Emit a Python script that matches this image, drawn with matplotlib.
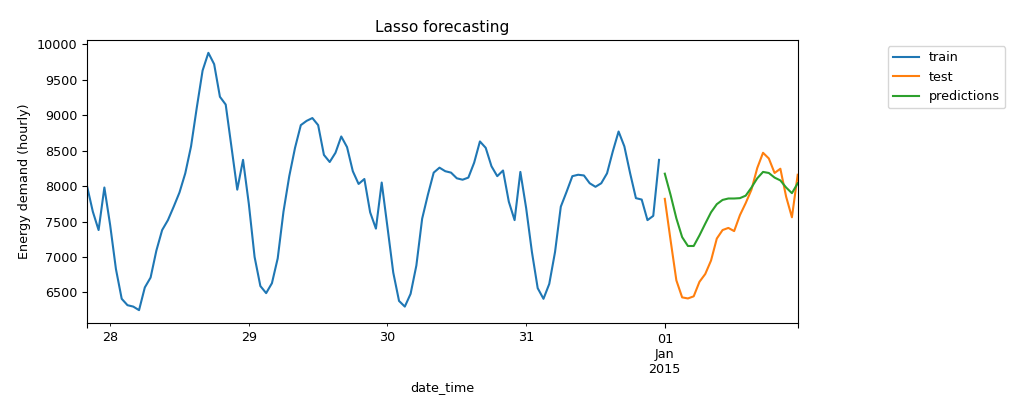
import matplotlib
matplotlib.use("Agg")
import matplotlib.pyplot as plt
import pandas as pd

plt.rcParams["font.size"] = 9.2

train_start = "2014-12-27 20:00"
test_start = "2015-01-01 00:00"

train_values = [
    8000, 7640, 7380, 7980, 7450, 6830, 6410, 6320, 6300, 6250,
    6570, 6710, 7090, 7380, 7520, 7710, 7910, 8180, 8560, 9110,
    9630, 9880, 9720, 9260, 9150, 8550, 7950, 8370, 7750, 7000,
    6590, 6490, 6630, 6980, 7640, 8140, 8540, 8860, 8920, 8960,
    8860, 8440, 8340, 8470, 8700, 8550, 8210, 8030, 8100, 7630,
    7400, 8050, 7420, 6780, 6380, 6300, 6480, 6880, 7540, 7880,
    8190, 8260, 8210, 8190, 8110, 8090, 8120, 8330, 8630, 8540,
    8280, 8140, 8220, 7780, 7520, 8200, 7690, 7070, 6560, 6410,
    6620, 7070, 7710, 7920, 8140, 8160, 8150, 8040, 7990, 8040,
    8180, 8490, 8770, 8560, 8180, 7830, 7810, 7520, 7580, 8370,
]
test_values = [
    7820, 7235, 6670, 6430, 6415, 6445, 6650, 6760, 6950, 7260,
    7380, 7410, 7365, 7590, 7760, 7950, 8255, 8470, 8390, 8185,
    8245, 7850, 7560, 8160,
]
pred_values = [
    8175, 7875, 7545, 7280, 7155, 7155, 7305, 7470, 7630, 7745,
    7805, 7825, 7825, 7830, 7865, 7980, 8110, 8200, 8185, 8120,
    8080, 7980, 7900, 8040,
]

train = pd.Series(train_values,
                  index=pd.date_range(train_start, periods=len(train_values), freq="h"))
test = pd.Series(test_values,
                 index=pd.date_range(test_start, periods=len(test_values), freq="h"))
predictions = pd.Series(pred_values, index=test.index)
train.index.name = "date_time"
test.index.name = "date_time"
predictions.index.name = "date_time"

fig = plt.figure(figsize=(10.24, 4.12), dpi=100)
ax = fig.add_axes([0.085, 0.216, 0.694, 0.687])
train.plot(ax=ax, label="train")
test.plot(ax=ax, label="test")
predictions.plot(ax=ax, label="predictions")
ax.set_title("Lasso forecasting")
ax.set_ylabel("Energy demand (hourly)")
ax.legend(loc="upper left", bbox_to_anchor=(1.118, 1.0))
fig.savefig("out.png", dpi=100)
